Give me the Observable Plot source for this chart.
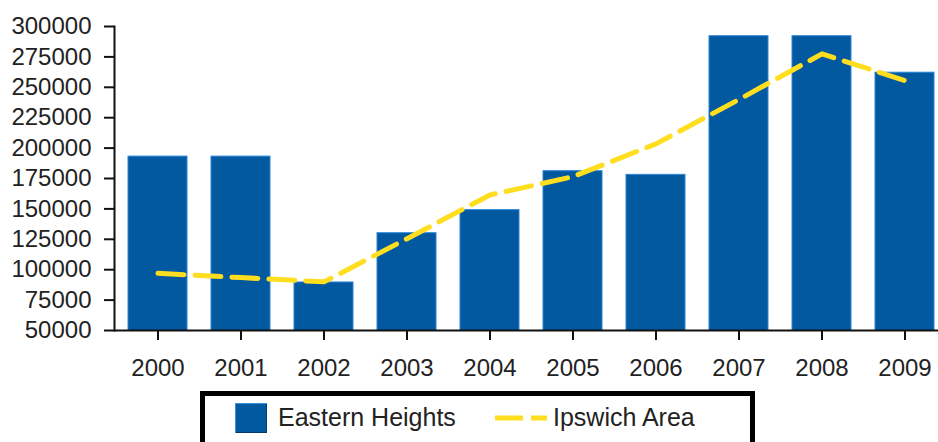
<!DOCTYPE html>
<html>
<head>
<meta charset="utf-8">
<script src="https://cdn.jsdelivr.net/npm/d3@7"></script>
<script src="https://cdn.jsdelivr.net/npm/@observablehq/plot@0.6"></script>
<style>
  html, body { margin: 0; padding: 0; background: #fff; overflow: hidden; }
  body { width: 938px; height: 442px; font-family: "Liberation Sans", Arial, sans-serif; }
  #legend {
    position: absolute; left: 200px; top: 391px; width: 545px; height: 70px;
    border: 5px solid #000; box-sizing: content-box; background: #fff;
  }
  .sw { position: absolute; }
  .lt { position: absolute; font-size: 25px; color: #222; line-height: 25px; }
</style>
</head>
<body>
<div id="chart"></div>
<div id="legend">
  <div class="sw" style="left:30px; top:7px; width:32px; height:30px; background:#03599f; box-shadow: inset 1px 1px 0 #3a93e0, inset -1px -1px 0 #023a6a;"></div>
  <div class="lt" style="left:73px; top:9px;">Eastern Heights</div>
  <svg class="sw" style="left:290px; top:17px;" width="52" height="10"><line x1="0" y1="5" x2="52" y2="5" stroke="#FFDD1F" stroke-width="5" stroke-dasharray="28,8"/></svg>
  <div class="lt" style="left:348px; top:9px;">Ipswich Area</div>
</div>
<script>
const years = ["2000","2001","2002","2003","2004","2005","2006","2007","2008","2009"];
const easternHeights = [193000, 193000, 89500, 130000, 149000, 181000, 178000, 292000, 292000, 262000];
const ipswichArea = [97000, 93500, 90000, 125500, 161500, 176500, 203500, 240000, 277500, 255500];
const yTicks = [50000, 75000, 100000, 125000, 150000, 175000, 200000, 225000, 250000, 275000, 300000];

const data = years.map((year, i) => ({year, eastern: easternHeights[i], ipswich: ipswichArea[i]}));

const chart = Plot.plot({
  width: 938,
  height: 388,
  marginLeft: 114,
  marginRight: -9,
  marginTop: 26,
  marginBottom: 58,
  style: {fontFamily: "'Liberation Sans', Arial, sans-serif", fontSize: "24px", color: "#222", background: "#fff"},
  x: {domain: years, paddingInner: 0.29, paddingOuter: 0.153, label: null},
  y: {domain: [50000, 300000], label: null},
  marks: [
    Plot.barY(data, {x: "year", y: "eastern", fill: "#03599f", stroke: "#2a86d8", strokeWidth: 1, clip: true}),
    Plot.line(data, {x: "year", y: "ipswich", stroke: "#FFDD1F", strokeWidth: 5, strokeDasharray: "26,11"}),
    Plot.axisX({tickSize: 10, tickPadding: 18, stroke: "#111", strokeWidth: 2, label: null, fill: "#222"}),
    Plot.axisY({ticks: yTicks, tickFormat: d3.format("d"), tickSize: 10, tickPadding: 13, stroke: "#111", strokeWidth: 2, label: null, fill: "#222"}),
    Plot.ruleY([50000], {stroke: "#111", strokeWidth: 2}),
    Plot.frame({anchor: "left", stroke: "#111", strokeWidth: 2})
  ]
});
document.getElementById("chart").appendChild(chart);
</script>
</body>
</html>
